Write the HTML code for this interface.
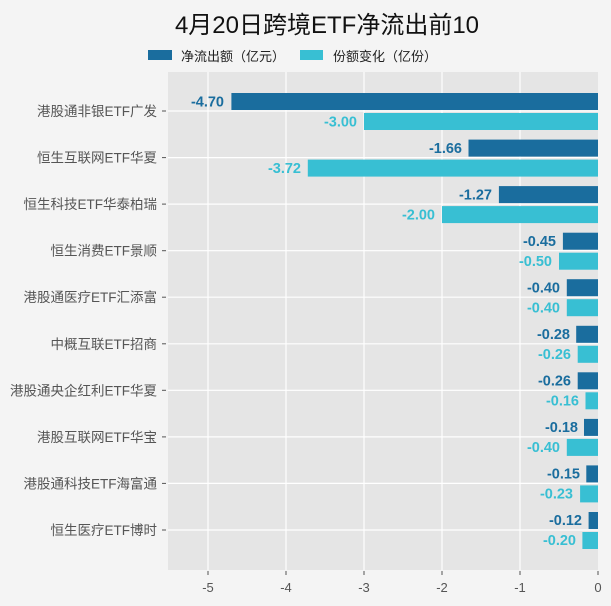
<!DOCTYPE html><html><head><meta charset="utf-8"><style>html,body{margin:0;padding:0;background:#f4f4f4}svg{display:block}text{font-family:"Liberation Sans","Noto Sans CJK SC",sans-serif}</style></head><body>
<svg width="611" height="606" viewBox="0 0 611 606" xmlns="http://www.w3.org/2000/svg">
<rect width="611" height="606" fill="#f4f4f4"/>
<text x="327" y="33" font-size="24" text-anchor="middle" fill="#111">4月20日跨境ETF净流出前10</text>
<rect x="148" y="50" width="24" height="10" fill="#1a6d9e"/>
<text x="181" y="61" font-size="13" fill="#222">净流出额（亿元）</text>
<rect x="300" y="50" width="23" height="10" fill="#38bfd3"/>
<text x="333" y="61" font-size="13" fill="#222">份额变化（亿份）</text>
<rect x="168" y="72" width="430" height="498" fill="#e5e5e5"/>
<g stroke="#fff" stroke-width="1.2">
<line x1="208" y1="72" x2="208" y2="570"/><line x1="286" y1="72" x2="286" y2="570"/><line x1="364" y1="72" x2="364" y2="570"/><line x1="442" y1="72" x2="442" y2="570"/><line x1="520" y1="72" x2="520" y2="570"/>
<line x1="168" y1="111" x2="598" y2="111"/><line x1="168" y1="157.6" x2="598" y2="157.6"/><line x1="168" y1="204.1" x2="598" y2="204.1"/><line x1="168" y1="250.7" x2="598" y2="250.7"/><line x1="168" y1="297.2" x2="598" y2="297.2"/><line x1="168" y1="343.8" x2="598" y2="343.8"/><line x1="168" y1="390.3" x2="598" y2="390.3"/><line x1="168" y1="436.9" x2="598" y2="436.9"/><line x1="168" y1="483.4" x2="598" y2="483.4"/><line x1="168" y1="530" x2="598" y2="530"/>
</g>
<g stroke="#555" stroke-width="1">
<line x1="162" y1="111" x2="166" y2="111"/><line x1="162" y1="157.6" x2="166" y2="157.6"/><line x1="162" y1="204.1" x2="166" y2="204.1"/><line x1="162" y1="250.7" x2="166" y2="250.7"/><line x1="162" y1="297.2" x2="166" y2="297.2"/><line x1="162" y1="343.8" x2="166" y2="343.8"/><line x1="162" y1="390.3" x2="166" y2="390.3"/><line x1="162" y1="436.9" x2="166" y2="436.9"/><line x1="162" y1="483.4" x2="166" y2="483.4"/><line x1="162" y1="530" x2="166" y2="530"/>
<line x1="208" y1="571" x2="208" y2="575"/><line x1="286" y1="571" x2="286" y2="575"/><line x1="364" y1="571" x2="364" y2="575"/><line x1="442" y1="571" x2="442" y2="575"/><line x1="520" y1="571" x2="520" y2="575"/><line x1="598" y1="571" x2="598" y2="575"/>
</g>
<g font-size="13.5" fill="#555" text-anchor="end">
<text x="157" y="116">港股通非银ETF广发</text><text x="157" y="162.6">恒生互联网ETF华夏</text><text x="157" y="209.1">恒生科技ETF华泰柏瑞</text><text x="157" y="255.7">恒生消费ETF景顺</text><text x="157" y="302.2">港股通医疗ETF汇添富</text><text x="157" y="348.8">中概互联ETF招商</text><text x="157" y="395.3">港股通央企红利ETF华夏</text><text x="157" y="441.9">港股互联网ETF华宝</text><text x="157" y="488.4">港股通科技ETF海富通</text><text x="157" y="535">恒生医疗ETF博时</text>
</g>
<g font-size="13" fill="#555" text-anchor="middle">
<text x="208" y="592">-5</text><text x="286" y="592">-4</text><text x="364" y="592">-3</text><text x="442" y="592">-2</text><text x="520" y="592">-1</text><text x="598" y="592">0</text>
</g>
<g fill="#1a6d9e">
<rect x="231.4" y="93" width="366.6" height="17"/><rect x="468.5" y="139.6" width="129.5" height="17"/><rect x="498.9" y="186.1" width="99.1" height="17"/><rect x="562.9" y="232.7" width="35.1" height="17"/><rect x="566.8" y="279.2" width="31.2" height="17"/><rect x="576.2" y="325.8" width="21.8" height="17"/><rect x="577.7" y="372.3" width="20.3" height="17"/><rect x="584" y="418.9" width="14" height="17"/><rect x="586.3" y="465.4" width="11.7" height="17"/><rect x="588.6" y="512" width="9.4" height="17"/>
</g>
<g fill="#38bfd3">
<rect x="364" y="113" width="234" height="17"/><rect x="307.8" y="159.6" width="290.2" height="17"/><rect x="442" y="206.1" width="156" height="17"/><rect x="559" y="252.7" width="39" height="17"/><rect x="566.8" y="299.2" width="31.2" height="17"/><rect x="577.7" y="345.8" width="20.3" height="17"/><rect x="585.5" y="392.3" width="12.5" height="17"/><rect x="566.8" y="438.9" width="31.2" height="17"/><rect x="580.1" y="485.4" width="17.9" height="17"/><rect x="582.4" y="532" width="15.6" height="17"/>
</g>
<g font-size="14.5" font-weight="bold" fill="#1a6d9e" text-anchor="end">
<text x="224" y="106.5">-4.70</text><text x="462" y="153">-1.66</text><text x="492" y="199.5">-1.27</text><text x="556" y="246">-0.45</text><text x="560" y="292.5">-0.40</text><text x="570" y="339">-0.28</text><text x="571" y="385.5">-0.26</text><text x="578" y="432">-0.18</text><text x="580" y="478.5">-0.15</text><text x="582" y="525">-0.12</text>
</g>
<g font-size="14.5" font-weight="bold" fill="#38bfd3" text-anchor="end">
<text x="357" y="126.5">-3.00</text><text x="301" y="173">-3.72</text><text x="435" y="219.5">-2.00</text><text x="552" y="266">-0.50</text><text x="560" y="312.5">-0.40</text><text x="571" y="359">-0.26</text><text x="579" y="405.5">-0.16</text><text x="560" y="452">-0.40</text><text x="573" y="498.5">-0.23</text><text x="576" y="545">-0.20</text>
</g>
</svg></body></html>
